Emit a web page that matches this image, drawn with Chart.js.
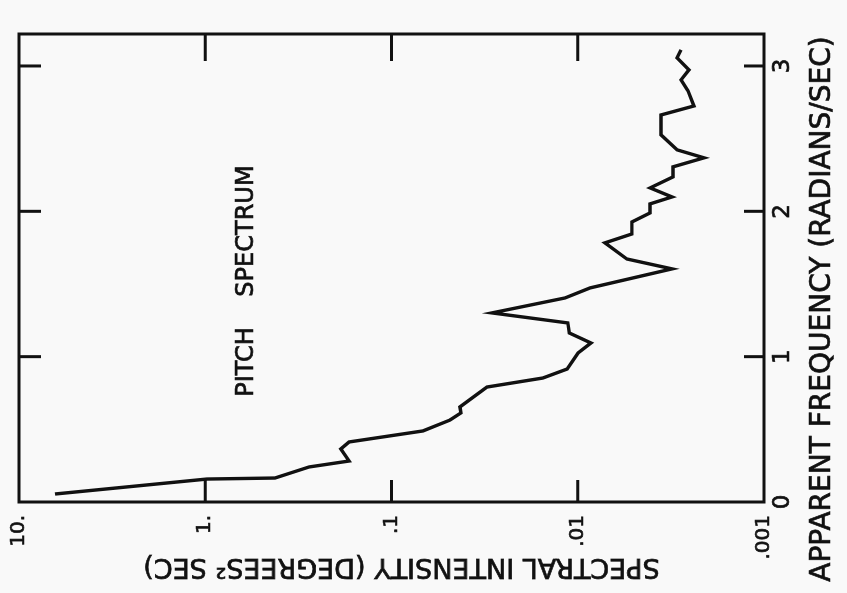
<!DOCTYPE html>
<html>
<head>
<meta charset="utf-8">
<script src="https://cdn.jsdelivr.net/npm/chart.js@4.4.1/dist/chart.umd.min.js"></script>
<style>
  html, body { margin: 0; padding: 0; width: 847px; height: 593px; overflow: hidden; background: #f9f9f9; }
  /* the figure is printed turned a quarter turn, so the chart is drawn upright and rotated */
  #wrap { position: absolute; left: 127px; top: -127px; width: 593px; height: 847px; transform: rotate(-90deg); }
</style>
</head>
<body>
<div id="wrap"><canvas id="pitchChart" width="593" height="847"></canvas></div>
<script>
  // apparent frequency (radians/sec) and spectral intensity (degrees^2 sec)
  const freq = [0.055, 0.158, 0.165, 0.241, 0.282, 0.365, 0.413, 0.489, 0.564, 0.613,
                0.654, 0.791, 0.853, 0.915, 1.025, 1.094, 1.163, 1.232, 1.301, 1.404,
                1.473, 1.604, 1.672, 1.783, 1.844, 1.927, 1.989, 2.051, 2.099, 2.161,
                2.237, 2.306, 2.368, 2.423, 2.526, 2.663, 2.725, 2.829, 2.904, 2.973,
                3.056, 3.111];
  const intensity = [6.41, 0.979, 0.422, 0.277, 0.169, 0.187, 0.169, 0.0678, 0.0485, 0.0424,
                     0.0429, 0.0307, 0.0154, 0.0114, 0.00997, 0.0085, 0.0111, 0.0113, 0.0289, 0.0117,
                     0.00859, 0.00312, 0.00545, 0.00714, 0.00512, 0.00512, 0.00409, 0.00409, 0.00312, 0.00409,
                     0.00308, 0.00308, 0.0021, 0.00293, 0.00357, 0.00357, 0.00238, 0.00256, 0.00279, 0.00253,
                     0.00293, 0.00279];

  const freqTicks = [0, 1, 2, 3];
  const intensityTicks = [10, 1, 0.1, 0.01, 0.001];
  const intensityTickLabels = ['10.', '1.', '.1', '.01', '.001'];

  const xTitle = 'APPARENT FREQUENCY (RADIANS/SEC)';
  const yTitle = 'SPECTRAL INTENSITY (DEGREES\u00B2 SEC)';
  const chartLabel = 'PITCH    SPECTRUM';

  const ink = '#111';
  const font = '"DejaVu Sans", sans-serif';

  // lettering in the scan is a little heavier than the font
  function letter(ctx, text, x, y) {
    ctx.fillText(text, x, y);
    ctx.strokeText(text, x, y);
  }

  // box, inward tick marks and the lettering
  const framePlugin = {
    id: 'frame',
    afterDraw(chart) {
      const ctx = chart.ctx;
      const a = chart.chartArea;
      const xs = chart.scales.x;
      const ys = chart.scales.y;
      ctx.save();
      ctx.strokeStyle = ink;
      ctx.lineWidth = 3;
      ctx.lineCap = 'butt';
      ctx.strokeRect(a.left, a.top, a.right - a.left, a.bottom - a.top);

      ctx.beginPath();
      freqTicks.slice(1).forEach(v => {
        const px = xs.getPixelForValue(v);
        ctx.moveTo(px, a.bottom); ctx.lineTo(px, a.bottom - 20);
        ctx.moveTo(px, a.top); ctx.lineTo(px, a.top + 22);
      });
      intensityTicks.slice(1, 4).forEach(v => {
        const py = ys.getPixelForValue(v);
        ctx.moveTo(a.left, py); ctx.lineTo(a.left + 22, py);
        ctx.moveTo(a.right, py); ctx.lineTo(a.right - 27, py);
      });
      ctx.stroke();

      ctx.fillStyle = ink;
      ctx.lineWidth = 0.7;
      ctx.textAlign = 'center';
      ctx.textBaseline = 'middle';

      ctx.font = '28px ' + font;
      letter(ctx, xTitle, (a.left + a.right) / 2 - 41, a.bottom + 59);

      ctx.font = '27px ' + font;
      ctx.save();
      ctx.translate(27, (a.top + a.bottom) / 2 + 10);
      ctx.rotate(-Math.PI / 2);
      letter(ctx, yTitle, 0, 0);
      ctx.restore();

      ctx.font = '24px ' + font;
      letter(ctx, chartLabel, xs.getPixelForValue(1.52), ys.getPixelForValue(0.6));
      ctx.restore();
    }
  };

  new Chart(document.getElementById('pitchChart'), {
    type: 'scatter',
    data: {
      datasets: [{
        label: 'Pitch spectrum',
        data: freq.map((f, i) => ({ x: f, y: intensity[i] })),
        showLine: true,
        borderColor: ink,
        borderWidth: 3.4,
        pointRadius: 0,
        tension: 0,
        fill: false
      }]
    },
    options: {
      responsive: false,
      animation: false,
      layout: { padding: { top: 19, right: 34, left: 0, bottom: 0 } },
      plugins: { legend: { display: false }, tooltip: { enabled: false } },
      scales: {
        x: {
          type: 'linear',
          min: 0,
          max: 3.22,
          grid: { display: false, drawTicks: false },
          border: { display: false },
          afterBuildTicks: s => { s.ticks = freqTicks.map(v => ({ value: v })); },
          afterFit: s => { s.height = 83; },
          ticks: {
            padding: 5,
            color: ink,
            textStrokeColor: ink,
            textStrokeWidth: 0.7,
            font: { family: font, size: 23 },
            maxRotation: 0,
            callback: v => String(v)
          }
        },
        y: {
          type: 'logarithmic',
          min: 0.001,
          max: 10,
          grid: { display: false, drawTicks: false },
          border: { display: false },
          afterBuildTicks: s => { s.ticks = intensityTicks.map(v => ({ value: v })); },
          afterFit: s => { s.width = 91; s.paddingTop = 0; s.paddingBottom = 0; },
          ticks: {
            padding: 13,
            color: ink,
            textStrokeColor: ink,
            textStrokeWidth: 0.7,
            font: { family: font, size: 20 },
            callback: v => {
              const i = intensityTicks.findIndex(t => Math.abs(Math.log10(t) - Math.log10(v)) < 1e-6);
              return i >= 0 ? intensityTickLabels[i] : '';
            }
          }
        }
      }
    },
    plugins: [framePlugin]
  });
</script>
</body>
</html>
